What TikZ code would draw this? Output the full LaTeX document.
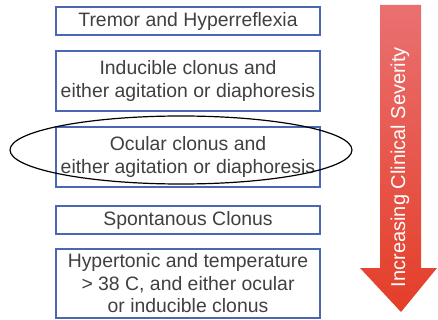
\documentclass[tikz,border=0pt]{standalone}
\usepackage{fontspec}
\setmainfont{Liberation Sans}
\usepackage{tikz}
\definecolor{boxblue}{RGB}{76,102,182}
\definecolor{textgray}{RGB}{64,64,64}
\definecolor{arrowtop}{RGB}{234,112,112}
\definecolor{arrowbot}{RGB}{228,62,40}
\newcommand{\drawsymptom}[4]{
  \node[symptom,minimum height=#3] (#1) at (188,#2) {#4};
}

\begin{document}
\begin{tikzpicture}[x=1pt,y=-1pt,
    symptom/.style={draw=boxblue,line width=1.5pt,fill=white,text=textgray,
      minimum width=264pt,inner sep=0pt,align=center,
      font=\fontsize{19.4}{22.5}\selectfont}]
      \useasboundingbox (0,0) rectangle (438,320);
      \drawsymptom{tremor}{21}{28pt}{Tremor and Hyperreflexia};
      \drawsymptom{inducible}{81}{60pt}{Inducible clonus and\\either agitation or diaphoresis};
      \drawsymptom{ocular}{157}{60pt}{Ocular clonus and\\either agitation or diaphoresis};
      \drawsymptom{spontan}{220}{28pt}{Spontanous Clonus};
      \drawsymptom{hyper}{283.5}{69pt}{Hypertonic and temperature\\> 38 C, and either ocular\\or inducible clonus};
      %% \node at (188,150) {ocular};
      \draw[line width=1.2pt] (181,150) ellipse (171 and 34);

      \shade[top color=arrowtop,bottom color=arrowbot]
        (380,5) -- (421,5) -- (421,268) -- (437,268) -- (401,312)
        -- (360,268) -- (380,268) -- cycle;
      \node[rotate=90,text=white,font=\fontsize{20}{24}\selectfont] (severity) at (400,167)
        {Increasing Clinical Severity};
    \end{tikzpicture}
\end{document}
